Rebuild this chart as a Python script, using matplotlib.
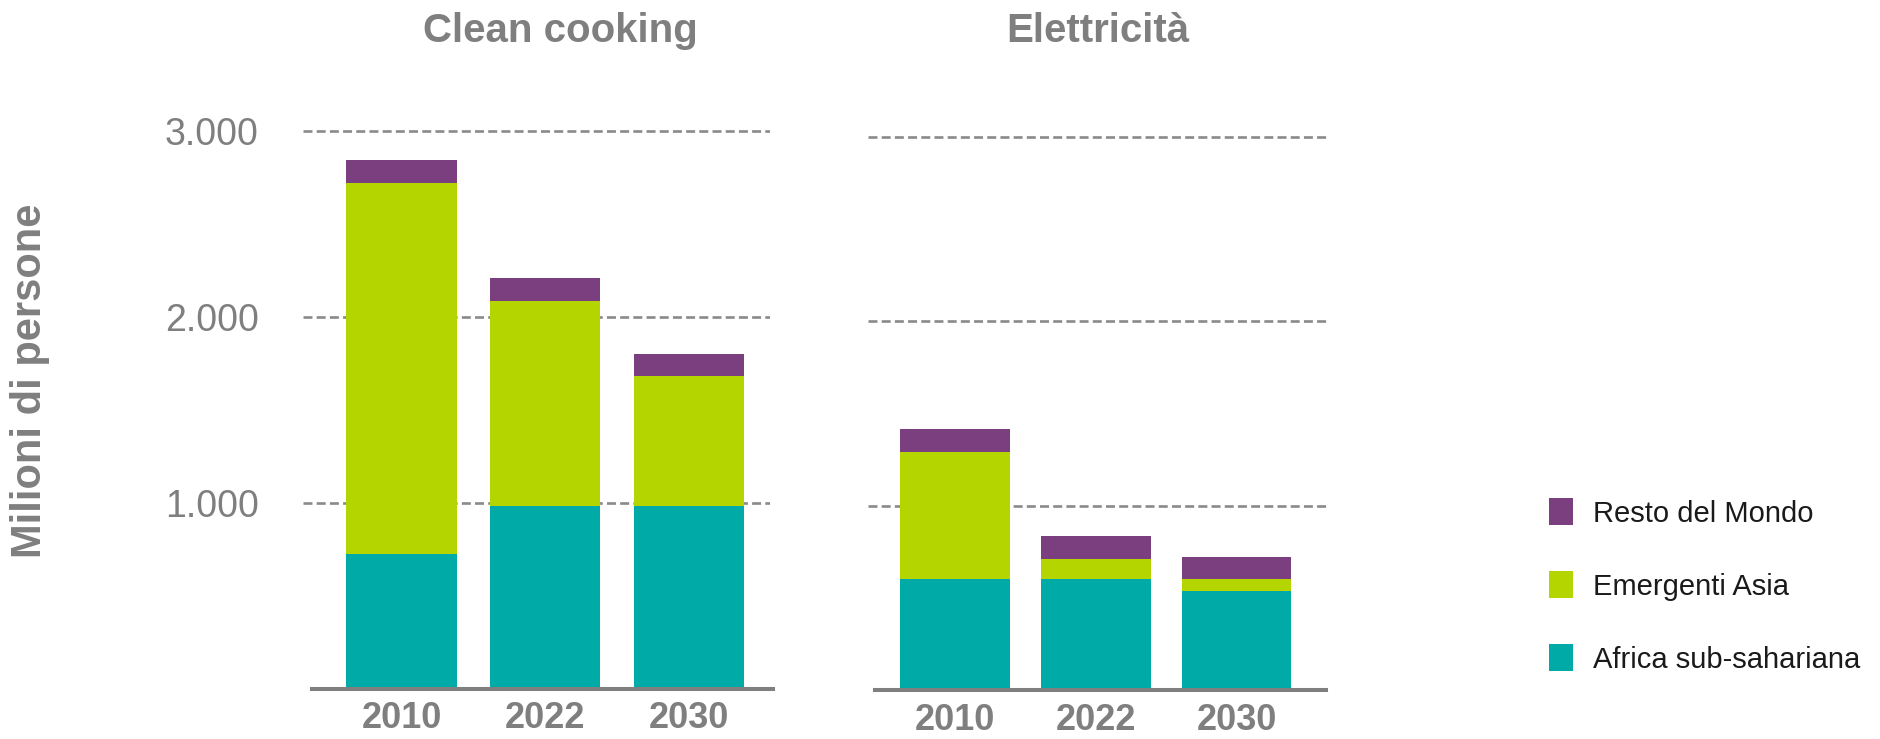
import numpy as np
import matplotlib
matplotlib.use('Agg')
import matplotlib.pyplot as plt

plt.rcParams['font.family'] = ['Liberation Sans', 'DejaVu Sans']

anni = ['2010', '2022', '2030']
serie = ['Africa sub-sahariana', 'Emergenti Asia', 'Resto del Mondo']
colori = ['#00aaa6', '#b5d500', '#7b3f80']

# milioni di persone senza accesso
cooking_africa = [727, 984, 984]
cooking_asia = [1992, 1101, 696]
cooking_resto = [127, 126, 121]

elettr_africa = [602, 602, 537]
elettr_asia = [690, 109, 65]
elettr_resto = [120, 122, 120]

yticks = [1000, 2000, 3000]
ytick_labels = ['1.000', '2.000', '3.000']

grigio = '#7f7f7f'

fig = plt.figure(figsize=(18.81, 7.39), dpi=100)
ax1 = fig.add_axes([0.1611, 0.0677, 0.2483, 0.7702])
ax2 = fig.add_axes([0.4615, 0.0663, 0.2456, 0.7702])


def disegna(ax, dati, larghezza, xlim, ytop, base_x):
    x = np.arange(len(anni))
    base = np.zeros(len(anni))
    barre = []
    for valori, col, nome in zip(dati, colori, serie):
        b = ax.bar(x, valori, larghezza, bottom=base, color=col, label=nome,
                   edgecolor='none', zorder=3)
        barre.append(b)
        base = base + np.array(valori)
    ax.set_xlim(*xlim)
    ax.set_ylim(0, ytop)
    ax.set_yticks(yticks)
    ax.grid(axis='y', color='#8a8a8a', linestyle=(0, (3.4, 1.6)), linewidth=1.9, zorder=1)
    ax.set_axisbelow(True)
    for s in ax.spines.values():
        s.set_visible(False)
    ax.axhline(0, xmin=base_x[0], xmax=base_x[1], color=grigio, linewidth=2.9,
               zorder=4, clip_on=False)
    ax.set_xticks(x)
    ax.set_xticklabels(anni, fontsize=26, fontweight='bold', color=grigio)
    ax.tick_params(axis='x', length=0, pad=9)
    ax.tick_params(axis='y', length=0, pad=32, labelsize=27, labelcolor=grigio)
    return barre


barre = disegna(ax1, [cooking_africa, cooking_asia, cooking_resto], 0.767,
                (-0.686, 2.568), 3060, (0.019, 1.006))
disegna(ax2, [elettr_africa, elettr_asia, elettr_resto], 0.78,
        (-0.618, 2.664), 3085, (0.015, 0.991))

ax1.set_yticklabels(ytick_labels)
ax2.set_yticklabels([])

fig.text(560 / 1881, 1 - 31 / 739, 'Clean cooking', fontsize=29, fontweight='bold',
         color=grigio, ha='center', va='center')
fig.text(1098 / 1881, 1 - 31 / 739, 'Elettricità', fontsize=29, fontweight='bold',
         color=grigio, ha='center', va='center')
fig.text(30 / 1881, 1 - 381 / 739, 'Milioni di persone', fontsize=30, fontweight='bold',
         color=grigio, ha='center', va='center', rotation=90)

fig.legend(barre[::-1], serie[::-1], loc='center left',
           bbox_to_anchor=(1549 / 1881, 1 - 586 / 739), frameon=False,
           fontsize=21, handlelength=0.82, handleheight=1.03, labelspacing=1.5,
           handletextpad=0.7, borderpad=0, borderaxespad=0, labelcolor='#1a1a1a')

fig.savefig('out.png', dpi=100)
